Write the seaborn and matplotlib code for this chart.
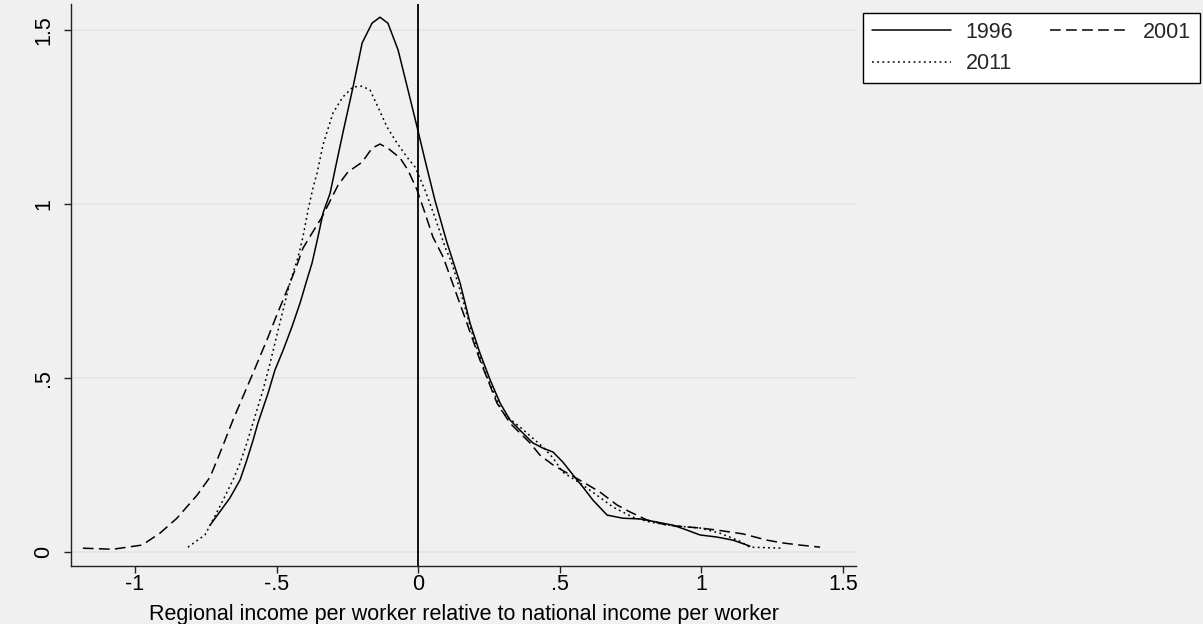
import matplotlib
matplotlib.use("Agg")
import matplotlib.pyplot as plt
import seaborn as sns
import pandas as pd
from matplotlib.lines import Line2D

# ---- data (kernel density curves) ----
x_1996 = [-0.735, -0.665, -0.629, -0.605, -0.583, -0.566, -0.530, -0.506, -0.477, -0.446,
          -0.417, -0.393, -0.375, -0.354, -0.336, -0.311, -0.294, -0.266, -0.230, -0.198,
          -0.163, -0.135, -0.107, -0.071, -0.036, -0.004, 0.024, 0.059, 0.102, 0.148,
          0.183, 0.218, 0.254, 0.289, 0.324, 0.359, 0.405, 0.441, 0.476, 0.511,
          0.547, 0.582, 0.617, 0.667, 0.723, 0.783, 0.843, 0.900, 0.949, 0.995,
          1.055, 1.112, 1.161, 1.171]
y_1996 = [0.078, 0.156, 0.208, 0.265, 0.322, 0.371, 0.457, 0.523, 0.580, 0.647,
          0.716, 0.782, 0.830, 0.905, 0.974, 1.031, 1.097, 1.204, 1.336, 1.462,
          1.519, 1.536, 1.519, 1.442, 1.327, 1.221, 1.126, 1.011, 0.888, 0.773,
          0.658, 0.572, 0.495, 0.429, 0.380, 0.351, 0.314, 0.299, 0.288, 0.259,
          0.222, 0.187, 0.150, 0.107, 0.098, 0.096, 0.087, 0.078, 0.064, 0.050,
          0.044, 0.035, 0.021, 0.018]

x_2001 = [-1.184, -1.078, -0.975, -0.912, -0.852, -0.781, -0.735, -0.710, -0.682, -0.654,
          -0.583, -0.530, -0.502, -0.477, -0.453, -0.428, -0.407, -0.375, -0.340, -0.283,
          -0.248, -0.198, -0.163, -0.135, -0.107, -0.064, -0.036, -0.004, 0.024, 0.052,
          0.088, 0.130, 0.172, 0.218, 0.278, 0.324, 0.395, 0.430, 0.476, 0.525,
          0.582, 0.642, 0.702, 0.748, 0.808, 0.879, 0.949, 0.995, 1.055, 1.147,
          1.232, 1.288, 1.348, 1.419]
y_2001 = [0.012, 0.009, 0.021, 0.055, 0.098, 0.164, 0.216, 0.265, 0.322, 0.380,
          0.515, 0.618, 0.676, 0.725, 0.773, 0.825, 0.873, 0.916, 0.962, 1.054,
          1.092, 1.120, 1.160, 1.172, 1.160, 1.132, 1.097, 1.040, 0.974, 0.905,
          0.848, 0.753, 0.658, 0.552, 0.429, 0.371, 0.314, 0.279, 0.251, 0.228,
          0.202, 0.173, 0.136, 0.116, 0.093, 0.078, 0.073, 0.070, 0.064, 0.053,
          0.035, 0.027, 0.021, 0.015]

x_2011 = [-0.813, -0.753, -0.725, -0.689, -0.654, -0.629, -0.605, -0.548, -0.523, -0.506,
          -0.477, -0.453, -0.424, -0.407, -0.389, -0.371, -0.357, -0.336, -0.301, -0.266,
          -0.230, -0.198, -0.170, -0.142, -0.110, -0.075, -0.040, -0.011, 0.024, 0.059,
          0.095, 0.119, 0.155, 0.194, 0.243, 0.299, 0.359, 0.441, 0.476, 0.511,
          0.571, 0.631, 0.688, 0.758, 0.818, 0.889, 0.949, 0.995, 1.066, 1.136,
          1.171, 1.288]
y_2011 = [0.015, 0.050, 0.093, 0.150, 0.208, 0.256, 0.314, 0.466, 0.543, 0.600,
          0.696, 0.773, 0.848, 0.905, 0.982, 1.048, 1.089, 1.170, 1.261, 1.307,
          1.336, 1.338, 1.327, 1.278, 1.221, 1.175, 1.135, 1.106, 1.040, 0.962,
          0.876, 0.830, 0.733, 0.618, 0.503, 0.400, 0.360, 0.302, 0.271, 0.230,
          0.199, 0.164, 0.130, 0.101, 0.087, 0.078, 0.073, 0.070, 0.055, 0.032,
          0.015, 0.012]

series_names = ["1996", "2001", "2011"]
x_ticks = [-1, -0.5, 0, 0.5, 1, 1.5]
x_tick_labels = ["-1", "-.5", "0", ".5", "1", "1.5"]
y_ticks = [0, 0.5, 1, 1.5]
y_tick_labels = ["0", ".5", "1", "1.5"]
x_label = "Regional income per worker relative to national income per worker"

# ---- style ----
BG = "#f0f0f0"
sns.set_theme(style="white")
plt.rcParams["font.family"] = ["Liberation Sans", "DejaVu Sans"]
FS = 15.5

fig = plt.figure(figsize=(12.03, 6.24), dpi=100, facecolor=BG)
ax = fig.add_axes([0.059, 0.093, 0.6526, 0.9006])
ax.set_facecolor(BG)

styles = {
    "1996": "-",
    "2001": (0, (7, 3.5)),
    "2011": (0, (1.2, 2.2)),
}
data = {
    "1996": (x_1996, y_1996),
    "2001": (x_2001, y_2001),
    "2011": (x_2011, y_2011),
}

for name in series_names:
    xs, ys = data[name]
    df = pd.DataFrame({"x": xs, "y": ys})
    sns.lineplot(data=df, x="x", y="y", ax=ax, sort=False, estimator=None,
                 color="black", linewidth=1.1, linestyle=styles[name])

ax.axvline(0, color="black", linewidth=1.3, zorder=3)

ax.set_xlim(-1.226, 1.546)
ax.set_ylim(-0.039, 1.574)
ax.set_xticks(x_ticks)
ax.set_xticklabels(x_tick_labels)
ax.set_yticks(y_ticks)
ax.set_yticklabels(y_tick_labels, rotation=90, va="center")
ax.set_xlabel(x_label, fontsize=FS, labelpad=6.5, color="black")
ax.set_ylabel("")

ax.grid(axis="y", color="#e3e3e3", linewidth=1.2)
ax.grid(axis="x", visible=False)
ax.set_axisbelow(True)

for side in ["top", "right"]:
    ax.spines[side].set_visible(False)
for side in ["left", "bottom"]:
    ax.spines[side].set_color("#222222")
    ax.spines[side].set_linewidth(1.0)

ax.tick_params(axis="both", which="major", direction="out", length=5,
               width=1.0, color="#222222", labelsize=FS, labelcolor="black",
               left=True, bottom=True)
ax.tick_params(axis="x", pad=0.5)
ax.tick_params(axis="y", pad=7)

handles = [
    Line2D([], [], color="black", lw=1.1, linestyle=styles["1996"]),
    Line2D([], [], color="black", lw=1.1, linestyle=styles["2011"]),
    Line2D([], [], color="black", lw=1.1, linestyle=styles["2001"]),
]
labels = ["1996", "2011", "2001"]
leg = fig.legend(handles, labels, loc="upper left",
                 bbox_to_anchor=(0.7175, 0.979, 0.2800, 0.0),
                 mode="expand", ncol=2, fontsize=FS, frameon=True,
                 fancybox=False, edgecolor="black", facecolor="white",
                 framealpha=1, handlelength=3.7, handletextpad=0.65,
                 columnspacing=1.5, labelspacing=0.5, borderpad=0.4,
                 borderaxespad=0)
leg.get_frame().set_linewidth(1.0)

fig.savefig("out.png", dpi=100, facecolor=BG)
